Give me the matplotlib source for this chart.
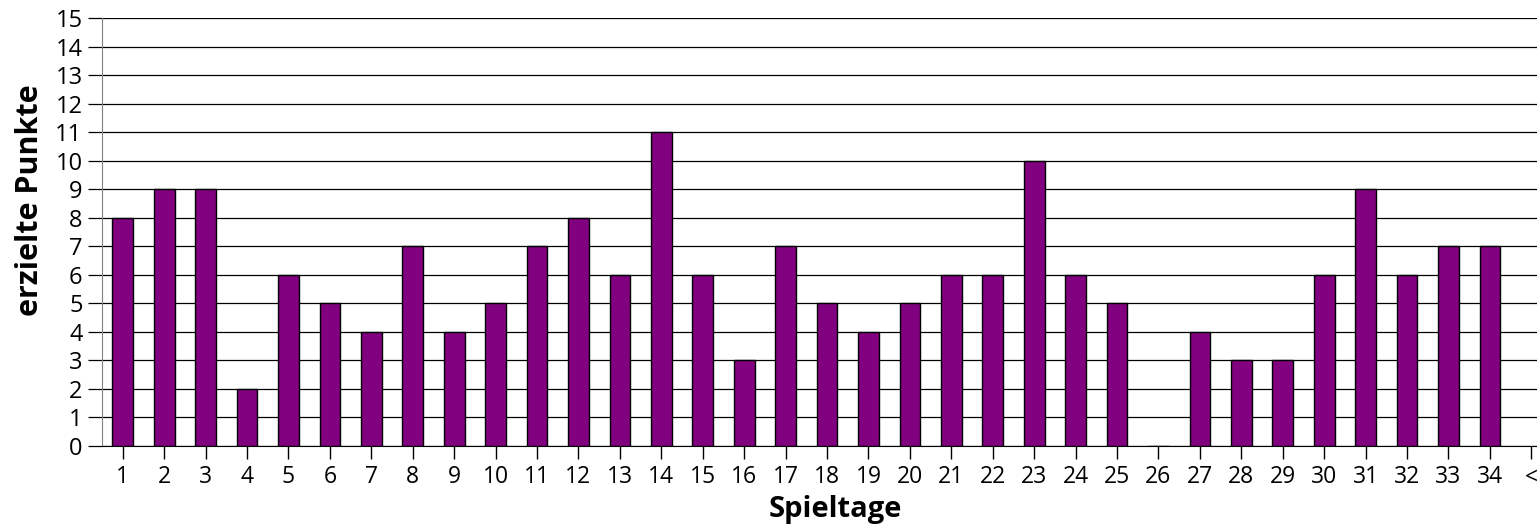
import matplotlib
matplotlib.use("Agg")
import matplotlib.pyplot as plt

categories = [str(i) for i in range(1, 35)] + ["<"]
points = [8, 9, 9, 2, 6, 5, 4, 7, 4, 5, 7, 8, 6, 11, 6, 3, 7, 5, 4, 5,
          6, 6, 10, 6, 5, 0, 4, 3, 3, 6, 9, 6, 7, 7]
y_ticks = list(range(0, 16))

plt.rcParams['font.family'] = ['Open Sans', 'DejaVu Sans']
W, H = 1537, 525
fig = plt.figure(figsize=(W / 100, H / 100), dpi=100)
left, right, bottom, top = 102, 1552, 446, 18
ax = fig.add_axes([left / W, 1 - bottom / H, (right - left) / W, (bottom - top) / H])

x = list(range(1, len(categories) + 1))
ax.bar(x[:len(points)], points, width=0.5, color='#800080', edgecolor='black',
       linewidth=1, zorder=3)

ax.set_xlim(0.5, len(categories) + 0.5)
ax.set_ylim(0, 15)
ax.set_yticks(y_ticks)
ax.set_xticks(x)
ax.set_xticklabels(categories)
ax.yaxis.grid(True, color='black', linewidth=0.9, zorder=0)
ax.set_axisbelow(True)
for s in ['top', 'right']:
    ax.spines[s].set_visible(False)
ax.spines['left'].set_color('#808080')
ax.spines['bottom'].set_color('black')
ax.tick_params(axis='y', length=10, width=0.9, colors='black', labelsize=17, pad=4)
ax.tick_params(axis='x', length=9, width=1, colors='black', labelsize=16.5, pad=5)

ax.set_xlabel('Spieltage', fontsize=21, fontweight='bold', va='center')
ax.set_ylabel('erzielte Punkte', fontsize=22, fontweight='bold', va='center')
aw, ah = right - left, bottom - top
ax.xaxis.set_label_coords((835 - left) / aw, (bottom - 510) / ah)
ax.yaxis.set_label_coords((30 - left) / aw, (bottom - 200) / ah)

fig.savefig('out.png', dpi=100)
